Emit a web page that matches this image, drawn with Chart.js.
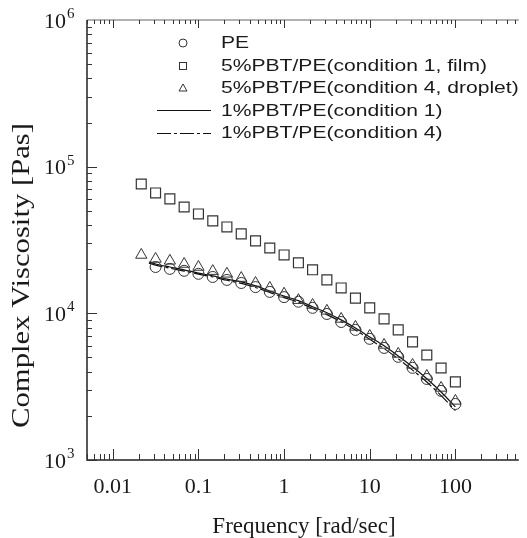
<!DOCTYPE html>
<html>
<head>
<meta charset="utf-8">
<script src="https://cdn.jsdelivr.net/npm/chart.js@4"></script>
<style>
html,body{margin:0;padding:0;background:#fff;}
canvas{display:block;}
.pre{position:absolute;left:-9999px;top:0;}
</style>
</head>
<body>
<span class="pre" style="font-family:'Liberation Serif'">10 Frequency</span>
<span class="pre" style="font-family:'Liberation Sans'">PE film</span>
<canvas id="c" width="527" height="538"></canvas>
<script>
// ---- data ----
const freq = [0.0215,0.0316,0.0464,0.0681,0.1,0.147,0.215,0.316,0.464,0.681,1,1.47,2.15,3.16,4.64,6.81,10,14.7,21.5,31.6,46.4,68.1,100];
const filmVals = [76200,66200,60300,53100,47600,42700,38800,34800,31200,27900,25000,22100,19800,16900,14900,12700,10900,9160,7710,6390,5200,4240,3410];
const dropletVals = [25000,23500,22800,21700,20700,19400,18600,17400,16100,14900,13600,12300,11400,10400,9160,8080,7010,6090,5290,4450,3740,3100,2530];
const peFreq = [0.0316,0.0464,0.0681,0.1,0.147,0.215,0.316,0.464,0.681,1,1.47,2.15,3.16,4.64,6.81,10,14.7,21.5,31.6,46.4,68.1,100];
const peVals = [20700,20100,19500,18600,17700,16900,16100,15100,14000,12900,12000,10900,9900,8730,7710,6700,5810,5050,4250,3570,2960,2410];
const lineFreq = [0.0264,0.0316,0.0464,0.0681,0.1,0.147,0.215,0.316,0.464,0.681,1,1.47,2.15,3.16,4.64,6.81,10,14.7,21.5,31.6,46.4,68.1,100];
const cond1Vals = [22400,21700,20700,19800,18800,18000,17100,16400,15400,14200,13100,12200,11100,10100,9020,7950,6900,6000,5120,4320,3580,2910,2300];
const cond4Vals = [22000,21300,20300,19400,18500,17700,16800,16000,15000,13900,12800,11900,10800,9800,8750,7700,6650,5750,4900,4100,3400,2750,2170];
const xTickLabels = ['0.01','0.1','1','10','100'];
const xTickValues = [0.01,0.1,1,10,100];
const yTickValues = [1e3,1e4,1e5,1e6];
const yTickExp = ['3','4','5','6'];
const legendLabels = ['PE','5%PBT/PE(condition 1, film)','5%PBT/PE(condition 4, droplet)','1%PBT/PE(condition 1)','1%PBT/PE(condition 4)'];
const xTitle = 'Frequency [rad/sec]';
const yTitle = 'Complex Viscosity [Pas]';

const pts = (xs, ys) => xs.map((x, i) => ({x, y: ys[i]}));
const INK = '#333';
const dashPattern = [14, 3, 3, 3];
const SERIF = '"Liberation Serif", "Times New Roman", Times, serif';
const SANS = '"Liberation Sans", Arial, Helvetica, sans-serif';

const decor = {
  id: 'decor',
  afterDraw(chart) {
    const ctx = chart.ctx;
    const a = chart.chartArea;
    const xs = chart.scales.x, ys = chart.scales.y;
    ctx.save();
    // axes frame
    ctx.strokeStyle = '#222';
    ctx.lineWidth = 1.5;
    ctx.beginPath();
    ctx.moveTo(a.left, a.top); ctx.lineTo(a.left, a.bottom); ctx.lineTo(a.right, a.bottom);
    ctx.stroke();
    ctx.strokeStyle = '#666';
    ctx.lineWidth = 1.2;
    ctx.beginPath();
    ctx.moveTo(a.left, a.top); ctx.lineTo(a.right, a.top);
    ctx.stroke();
    // ticks
    ctx.strokeStyle = '#333';
    ctx.lineWidth = 1;
    ctx.beginPath();
    for (let e = -3; e <= 2; e++) {
      for (let m = 1; m <= 9; m++) {
        const v = m * Math.pow(10, e);
        if (v < xs.min || v > xs.max) continue;
        const px = Math.round(xs.getPixelForValue(v)) + 0.5;
        const len = m === 1 ? 11 : 6;
        ctx.moveTo(px, a.bottom); ctx.lineTo(px, a.bottom - len);
        ctx.moveTo(px, a.top); ctx.lineTo(px, a.top + (m === 1 ? 8 : 4));
      }
    }
    for (let e = 3; e <= 5; e++) {
      for (let m = 1; m <= 9; m++) {
        const v = m * Math.pow(10, e);
        if (v < ys.min || v > ys.max) continue;
        const py = Math.round(ys.getPixelForValue(v)) + 0.5;
        const len = m === 1 ? 10 : 5;
        ctx.moveTo(a.left, py); ctx.lineTo(a.left + len, py);
      }
    }
    ctx.stroke();
    // x tick labels
    ctx.fillStyle = '#1a1a1a';
    ctx.font = '22px ' + SERIF;
    ctx.textAlign = 'center';
    ctx.textBaseline = 'alphabetic';
    xTickValues.forEach((v, i) => {
      ctx.fillText(xTickLabels[i], xs.getPixelForValue(v), 493);
    });
    // y tick labels 10^n
    yTickValues.forEach((v, i) => {
      const py = ys.getPixelForValue(v);
      ctx.font = '22px ' + SERIF;
      ctx.textAlign = 'right';
      ctx.fillText('10', 66, py + 7.5);
      ctx.font = '15px ' + SERIF;
      ctx.textAlign = 'left';
      ctx.fillText(yTickExp[i], 67, py - 2);
    });
    // axis titles
    ctx.font = '23px ' + SERIF;
    ctx.textAlign = 'center';
    ctx.fillText(xTitle, 304, 533);
    ctx.save();
    ctx.translate(22, 275.5);
    ctx.rotate(-Math.PI / 2);
    ctx.font = '26px ' + SERIF;
    const w = ctx.measureText(yTitle).width;
    ctx.scale(305 / w, 1);
    ctx.textBaseline = 'middle';
    ctx.fillText(yTitle, 0, 0);
    ctx.restore();
    // legend
    ctx.font = '17px ' + SANS;
    const sx = 266 / ctx.measureText(legendLabels[1]).width;
    const rows = [48, 70.5, 93, 115.5, 138];
    legendLabels.forEach((t, i) => {
      ctx.save();
      ctx.translate(221, rows[i]);
      ctx.scale(sx, 1);
      ctx.textAlign = 'left';
      ctx.textBaseline = 'alphabetic';
      ctx.fillStyle = '#1a1a1a';
      ctx.fillText(t, 0, 0);
      ctx.restore();
    });
    ctx.strokeStyle = INK;
    ctx.lineWidth = 1;
    const cx = 183;
    ctx.beginPath(); ctx.arc(cx, 43, 4, 0, Math.PI * 2); ctx.stroke();
    ctx.strokeRect(cx - 3.5, 62.5, 7, 7);
    ctx.beginPath(); ctx.moveTo(cx, 84); ctx.lineTo(cx + 4, 91); ctx.lineTo(cx - 4, 91); ctx.closePath(); ctx.stroke();
    ctx.strokeStyle = '#111';
    ctx.lineWidth = 1.2;
    ctx.beginPath(); ctx.moveTo(157, 110.5); ctx.lineTo(211, 110.5); ctx.stroke();
    ctx.setLineDash(dashPattern);
    ctx.beginPath(); ctx.moveTo(157, 133.5); ctx.lineTo(211, 133.5); ctx.stroke();
    ctx.restore();
  }
};

function build() {
  new Chart(document.getElementById('c'), {
    type: 'line',
    data: {
      datasets: [
        { label: legendLabels[0], data: pts(peFreq, peVals), showLine: false, pointStyle: 'circle', pointRadius: 5.5, pointBorderWidth: 1, pointBorderColor: INK, pointBackgroundColor: 'rgba(0,0,0,0)' },
        { label: legendLabels[1], data: pts(freq, filmVals), showLine: false, pointStyle: 'rect', pointRadius: 7, pointBorderWidth: 1.2, pointBorderColor: INK, pointBackgroundColor: 'rgba(0,0,0,0)' },
        { label: legendLabels[2], data: pts(freq, dropletVals), showLine: false, pointStyle: 'triangle', pointRadius: 6.5, pointBorderWidth: 1, pointBorderColor: INK, pointBackgroundColor: 'rgba(0,0,0,0)' },
        { label: legendLabels[3], data: pts(lineFreq, cond1Vals), borderColor: '#111', borderWidth: 1.2, pointRadius: 0, tension: 0.3, fill: false },
        { label: legendLabels[4], data: pts(lineFreq, cond4Vals), borderColor: '#111', borderWidth: 1.2, borderDash: dashPattern, pointRadius: 0, tension: 0.3, fill: false }
      ]
    },
    options: {
      responsive: false,
      animation: false,
      devicePixelRatio: 1,
      layout: { padding: { left: 87, top: 20, right: 0, bottom: 78 } },
      plugins: { legend: { display: false }, tooltip: { enabled: false } },
      scales: {
        x: { type: 'logarithmic', min: 0.005, max: 550, display: false },
        y: { type: 'logarithmic', min: 1000, max: 1000000, display: false }
      }
    },
    plugins: [decor]
  });
}

Promise.all([
  document.fonts.load('22px "Liberation Serif"'),
  document.fonts.load('17px "Liberation Sans"')
]).then(build, build);
</script>
</body>
</html>
